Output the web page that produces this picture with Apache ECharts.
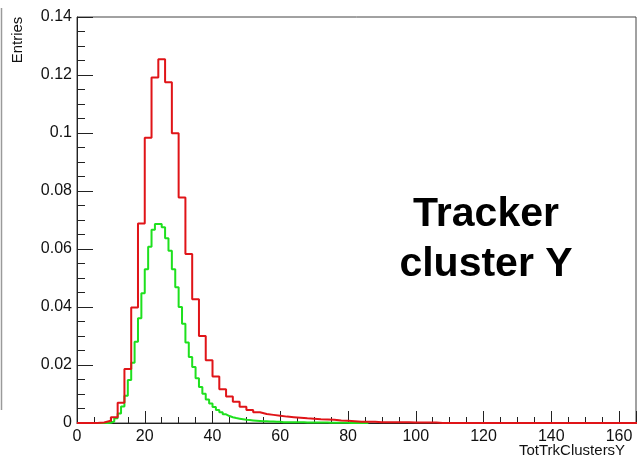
<!DOCTYPE html>
<html>
<head>
<meta charset="utf-8">
<script src="https://cdn.jsdelivr.net/npm/echarts@6/dist/echarts.min.js"></script>
<style>
  html, body { margin: 0; padding: 0; background: #fff; }
  #chart { width: 639px; height: 457px; }
</style>
</head>
<body>
<div id="chart"></div>
<script>
// TotTrkClustersY distributions, normalised entries per bin
const xTitle = 'TotTrkClustersY';
const yTitle = 'Entries';
const panelText = ['Tracker', 'cluster Y'];

// Red histogram: bins of width 2 starting at 0
const redBinStart = 0;
const redBinWidth = 2;
const redValues = [
  0, 0, 0, 0.0002, 0.0008, 0.0020, 0.0070, 0.0186, 0.0398, 0.0688,
  0.0984, 0.1191, 0.1254, 0.1175, 0.0999, 0.0778, 0.0583, 0.0427, 0.0300, 0.0216,
  0.0160, 0.0116, 0.0091, 0.0073, 0.0056, 0.0045, 0.0037, 0.0031, 0.0028, 0.0025,
  0.0022, 0.0020, 0.0018, 0.0016, 0.0015, 0.0013, 0.0012, 0.0011, 0.0009, 0.0008,
  0.0006, 0.0004, 0.0004, 0.0004, 0.0003, 0.0003, 0.0003, 0.0003, 0.0003, 0.0002,
  0.0002, 0.0002, 0.0002, 0, 0, 0, 0, 0, 0, 0,
  0, 0, 0, 0, 0, 0, 0, 0, 0, 0,
  0, 0, 0, 0, 0, 0, 0, 0, 0, 0,
  0, 0, 0
];

// Green histogram: bins of width 1 starting at 0
const greenBinStart = 0;
const greenBinWidth = 1;
const greenValues = [
  0, 0, 0, 0, 0, 0, 0, 0, 0, 0.0001,
  0.0005, 0.0016, 0.0033, 0.0057, 0.0094, 0.0148, 0.0208, 0.0280, 0.0361, 0.0447,
  0.0530, 0.0608, 0.0666, 0.0686, 0.0686, 0.0675, 0.0637, 0.0594, 0.0530, 0.0468,
  0.0400, 0.0342, 0.0278, 0.0228, 0.0193, 0.0154, 0.0124, 0.0101, 0.0081, 0.0067,
  0.0055, 0.0045, 0.0037, 0.0030, 0.0024, 0.0020, 0.0017, 0.0015, 0.0013, 0.0011,
  0.0010, 0.0009, 0.0008, 0.0007, 0.0006, 0.0006, 0.0005, 0.0005, 0.0004, 0.0004,
  0.0003, 0.0003, 0.0003, 0.0003, 0.0003, 0.0003, 0.0003, 0.0002, 0.0002, 0.0002,
  0.0002, 0.0002, 0.0002, 0.0002, 0.0001, 0.0001, 0.0001, 0.0001, 0.0001, 0.0001,
  0, 0, 0, 0, 0, 0
];

const xMin = 0, xMax = 165, xStep = 20;
const yMin = 0, yMax = 0.14, yStep = 0.02;

// Turn bin contents into step-line points: one point per left edge, plus the final right edge
function histPoints(start, width, values) {
  const pts = values.map((v, i) => [start + i * width, v]);
  pts.push([start + values.length * width, values[values.length - 1]]);
  return pts;
}

const font = '"Liberation Sans", Arial, Helvetica, sans-serif';
const chart = echarts.init(document.getElementById('chart'), null, { renderer: 'canvas' });

chart.setOption({
  animation: false,
  backgroundColor: '#ffffff',
  grid: {
    left: 77, top: 17, right: 1, bottom: 34,
    show: true, borderColor: '#444', borderWidth: 1, backgroundColor: 'transparent'
  },
  xAxis: {
    type: 'value', min: xMin, max: xMax, interval: xStep,
    axisLine: { show: true, onZero: false, lineStyle: { color: '#222', width: 1 } },
    axisTick: { show: true, inside: true, length: 12, lineStyle: { color: '#222' } },
    minorTick: { show: true, splitNumber: 4, length: 6, lineStyle: { color: '#222' } },
    axisLabel: { color: '#111', fontFamily: font, fontSize: 16, margin: 6,
      formatter: v => (v > 160 ? '' : String(v)) },
    splitLine: { show: false }
  },
  yAxis: {
    type: 'value', min: yMin, max: yMax, interval: yStep,
    axisLine: { show: true, lineStyle: { color: '#222', width: 1 } },
    axisTick: { show: true, inside: true, length: 16, lineStyle: { color: '#222' } },
    minorTick: { show: true, splitNumber: 4, length: 8, lineStyle: { color: '#222' } },
    axisLabel: { color: '#111', fontFamily: font, fontSize: 16, margin: 5,
      formatter: v => String(Math.round(v * 100) / 100) },
    splitLine: { show: false }
  },
  series: [
    {
      name: 'green', type: 'line', step: 'end', symbol: 'none',
      data: histPoints(greenBinStart, greenBinWidth, greenValues),
      lineStyle: { color: '#1ee01e', width: 2 },
      z: 2
    },
    {
      name: 'red', type: 'line', step: 'end', symbol: 'none',
      data: histPoints(redBinStart, redBinWidth, redValues),
      lineStyle: { color: '#e01418', width: 2 },
      z: 3
    }
  ],
  graphic: [
    {
      type: 'line', shape: { x1: 1.5, y1: 8, x2: 1.5, y2: 410 },
      style: { stroke: '#9a9a9a', lineWidth: 1.5 }
    },
    {
      // vertical axis title, reading bottom to top
      type: 'text', x: 18, y: 40, rotation: Math.PI / 2,
      style: { text: yTitle, fontFamily: font, fontSize: 15, fill: '#111',
        textAlign: 'center', textVerticalAlign: 'middle' }
    },
    {
      type: 'text', x: 519, y: 443,
      style: { text: xTitle, fontFamily: font, fontSize: 15, fill: '#111' }
    },
    {
      type: 'text', x: 486, y: 215,
      style: { text: panelText[0], fontFamily: font, fontSize: 41, fontWeight: 'bold',
        fill: '#000', textAlign: 'center', textVerticalAlign: 'middle' }
    },
    {
      type: 'text', x: 486, y: 265,
      style: { text: panelText[1], fontFamily: font, fontSize: 41, fontWeight: 'bold',
        fill: '#000', textAlign: 'center', textVerticalAlign: 'middle' }
    }
  ]
});
</script>
</body>
</html>
